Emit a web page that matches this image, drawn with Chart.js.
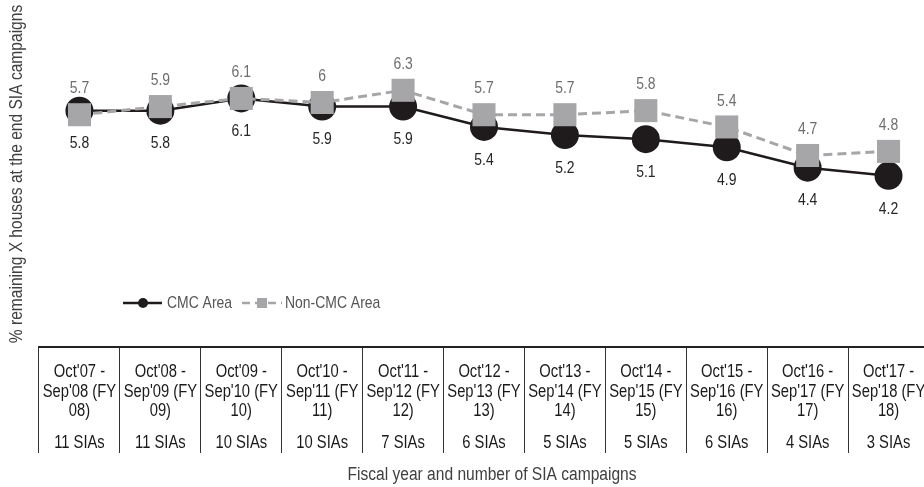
<!DOCTYPE html>
<html>
<head>
<meta charset="utf-8">
<script src="https://cdn.jsdelivr.net/npm/chart.js@4.4.1/dist/chart.umd.min.js"></script>
<style>
    html, body { margin: 0; padding: 0; background: #fff; overflow: hidden; }
    #wrap { width: 924px; height: 487px; position: relative; overflow: hidden; }
    #houseChart { display: block; }
</style>
</head>
<body>
<div id="wrap"><canvas id="houseChart" width="930" height="487"></canvas></div>
<script>
// بيانات المخطط
const fiscalLabels = [
    ["Oct'07 -", "Sep'08 (FY", "08)"],
    ["Oct'08 -", "Sep'09 (FY", "09)"],
    ["Oct'09 -", "Sep'10 (FY", "10)"],
    ["Oct'10 -", "Sep'11 (FY", "11)"],
    ["Oct'11 -", "Sep'12 (FY", "12)"],
    ["Oct'12 -", "Sep'13 (FY", "13)"],
    ["Oct'13 -", "Sep'14 (FY", "14)"],
    ["Oct'14 -", "Sep'15 (FY", "15)"],
    ["Oct'15 -", "Sep'16 (FY", "16)"],
    ["Oct'16 -", "Sep'17 (FY", "17)"],
    ["Oct'17 -", "Sep'18 (FY", "18)"]
];
const siaCounts = ['11 SIAs', '11 SIAs', '10 SIAs', '10 SIAs', '7 SIAs', '6 SIAs', '5 SIAs', '5 SIAs', '6 SIAs', '4 SIAs', '3 SIAs'];
const cmcValues = [5.8, 5.8, 6.1, 5.9, 5.9, 5.4, 5.2, 5.1, 4.9, 4.4, 4.2];
const nonCmcValues = [5.7, 5.9, 6.1, 6, 6.3, 5.7, 5.7, 5.8, 5.4, 4.7, 4.8];

const FONT = "'Liberation Sans', Arial, sans-serif";
const CMC_COLOR = '#1f1b1d';
const NON_CMC_COLOR = '#a6a6a8';

// نص مضغوط أفقياً (شبيه Arial Narrow)
function narrowText(ctx, text, x, y, align, squeeze) {
    ctx.save();
    ctx.translate(x, y);
    ctx.scale(squeeze || 0.82, 1);
    ctx.textAlign = align || 'center';
    ctx.fillText(text, 0, 0);
    ctx.restore();
}

// تسميات القيم + الجدول + العناوين + وسيلة الإيضاح
const extrasPlugin = {
    id: 'extras',
    afterDatasetsDraw(chart) {
        const ctx = chart.ctx;
        const area = chart.chartArea;
        const x = chart.scales.x;
        ctx.save();
        ctx.textBaseline = 'middle';

        // تسميات القيم
        ctx.font = '17px ' + FONT;
        chart.getDatasetMeta(0).data.forEach((pt, i) => {
            ctx.fillStyle = '#262626';
            narrowText(ctx, String(cmcValues[i]), pt.x, pt.y + 33);
        });
        chart.getDatasetMeta(1).data.forEach((pt, i) => {
            ctx.fillStyle = '#6e6e6e';
            narrowText(ctx, String(nonCmcValues[i]), pt.x, pt.y - 26);
        });

        // نصوص الجدول
        ctx.font = '18px ' + FONT;
        ctx.fillStyle = '#1a1a1a';
        fiscalLabels.forEach((lines, i) => {
            const cx = x.getPixelForValue(i);
            lines.forEach((ln, j) => {
                narrowText(ctx, ln, cx, area.bottom + 25 + j * 19.7);
            });
            narrowText(ctx, siaCounts[i], cx, area.bottom + 96);
        });

        // عنوان المحور السيني
        ctx.font = '18px ' + FONT;
        ctx.fillStyle = '#404040';
        narrowText(ctx, 'Fiscal year and number of SIA campaigns', 492, 475, 'center', 0.865);

        // عنوان المحور الصادي
        ctx.save();
        ctx.translate(17, 174);
        ctx.rotate(-Math.PI / 2);
        narrowText(ctx, '% remaining X houses at the end SIA campaigns', 0, 0, 'center', 0.865);
        ctx.restore();

        // وسيلة الإيضاح
        const ly = 303;
        let lx = area.left + 84;
        ctx.font = '17px ' + FONT;
        ctx.strokeStyle = CMC_COLOR;
        ctx.lineWidth = 2.5;
        ctx.beginPath();
        ctx.moveTo(lx, ly);
        ctx.lineTo(lx + 39, ly);
        ctx.stroke();
        ctx.fillStyle = CMC_COLOR;
        ctx.beginPath();
        ctx.arc(lx + 20, ly, 5, 0, Math.PI * 2);
        ctx.fill();
        ctx.fillStyle = '#555';
        narrowText(ctx, 'CMC Area', lx + 44, ly, 'left');

        lx = area.left + 203;
        ctx.strokeStyle = NON_CMC_COLOR;
        ctx.lineWidth = 2.5;
        ctx.setLineDash([8, 5]);
        ctx.beginPath();
        ctx.moveTo(lx, ly);
        ctx.lineTo(lx + 40, ly);
        ctx.stroke();
        ctx.setLineDash([]);
        ctx.fillStyle = NON_CMC_COLOR;
        ctx.fillRect(lx + 15, ly - 5, 10, 10);
        ctx.fillStyle = '#555';
        narrowText(ctx, 'Non-CMC Area', lx + 43, ly, 'left');

        ctx.restore();
    }
};

function drawChart() {
    const ctx = document.getElementById('houseChart').getContext('2d');
    new Chart(ctx, {
        type: 'line',
        data: {
            labels: fiscalLabels,
            datasets: [{
                label: 'CMC Area',
                data: cmcValues,
                borderColor: CMC_COLOR,
                backgroundColor: CMC_COLOR,
                borderWidth: 2.5,
                pointStyle: 'circle',
                pointRadius: 14,
                pointBorderWidth: 0,
                pointBackgroundColor: CMC_COLOR,
                tension: 0,
                order: 2,
                clip: false
            }, {
                label: 'Non-CMC Area',
                data: nonCmcValues,
                borderColor: NON_CMC_COLOR,
                backgroundColor: NON_CMC_COLOR,
                borderWidth: 3,
                borderDash: [9, 5],
                pointStyle: 'rect',
                pointRadius: 16.3,
                pointBorderWidth: 0,
                pointBackgroundColor: NON_CMC_COLOR,
                tension: 0,
                order: 1,
                clip: false
            }]
        },
        options: {
            responsive: false,
            animation: false,
            layout: { autoPadding: false, padding: { left: 39, right: 1, top: 21, bottom: 0 } },
            plugins: {
                legend: { display: false },
                tooltip: { enabled: false }
            },
            scales: {
                y: {
                    display: false,
                    min: 0,
                    max: 8
                },
                x: {
                    offset: true,
                    afterFit(scale) { scale.height = 140; },
                    grid: {
                        offset: true,
                        drawOnChartArea: false,
                        drawTicks: true,
                        tickLength: 106,
                        color: '#333',
                        lineWidth: 1
                    },
                    border: { display: true, color: '#222', width: 2 },
                    ticks: { display: false }
                }
            }
        },
        plugins: [extrasPlugin]
    });
}

drawChart();
</script>
</body>
</html>
